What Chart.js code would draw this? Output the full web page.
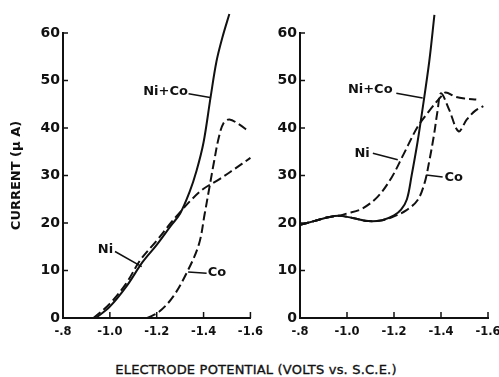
<!DOCTYPE html>
<html>
<head>
<meta charset="utf-8">
<script src="https://cdn.jsdelivr.net/npm/chart.js@4.4.1/dist/chart.umd.min.js"></script>
<style>
  html, body { margin: 0; padding: 0; background: #fff; overflow: hidden; width: 499px; height: 377px; }
  .panel { position: absolute; top: 0; }
  #leftBox { left: 0; width: 270px; height: 345px; }
  #rightBox { left: 250px; width: 265px; height: 345px; }
  #xTitle {
    position: absolute; top: 362px; left: 0; width: 512px; text-align: center;
    font: 13px "DejaVu Sans"; color: #111; letter-spacing: 0.2px;
    -webkit-text-stroke: 0.35px #111;
  }
</style>
</head>
<body>
<div class="panel" id="leftBox"><canvas id="leftChart"></canvas></div>
<div class="panel" id="rightBox"><canvas id="rightChart"></canvas></div>
<div id="xTitle">ELECTRODE POTENTIAL (VOLTS vs. S.C.E.)</div>

<script>
// left panel (volts vs S.C.E., current in microamps)
const leftNiCoV = [-0.94, -1.00, -1.07, -1.14, -1.20, -1.26, -1.30, -1.34, -1.37, -1.40, -1.43, -1.455, -1.48, -1.51];
const leftNiCoI = [0, 2.4, 6.6, 11.8, 15.4, 19.4, 22, 26.5, 31, 37, 46.5, 54, 59, 64];
const leftNiV = [-0.93, -1.00, -1.07, -1.13, -1.20, -1.26, -1.30, -1.35, -1.40, -1.47, -1.53, -1.60];
const leftNiI = [0, 3.0, 7.3, 12.2, 16.3, 20.0, 22.3, 25.0, 27.2, 29.3, 31.3, 33.7];
const leftCoV = [-1.16, -1.21, -1.27, -1.33, -1.38, -1.405, -1.425, -1.445, -1.465, -1.485, -1.51, -1.55, -1.59];
const leftCoI = [0, 1.3, 4.5, 9.7, 15.5, 22, 27.5, 33, 38, 41, 41.8, 40.8, 39.4];

// right panel
const rightNiCoV = [-0.80, -0.86, -0.92, -0.97, -1.03, -1.09, -1.15, -1.20, -1.23, -1.255, -1.275, -1.30, -1.32, -1.35, -1.372];
const rightNiCoI = [19.6, 20.4, 21.2, 21.5, 21.0, 20.4, 20.6, 21.6, 22.8, 25.0, 30.0, 37, 43.5, 54, 63.8];
const rightNiV = [-0.80, -0.86, -0.92, -0.97, -1.00, -1.06, -1.13, -1.19, -1.24, -1.30, -1.35, -1.40, -1.42, -1.46, -1.50, -1.55];
const rightNiI = [19.6, 20.4, 21.2, 21.6, 22.0, 22.9, 25.5, 29.6, 34.4, 40.2, 43.6, 46.6, 47.5, 46.6, 46.2, 46.0];
const rightCoV = [-0.80, -0.86, -0.92, -0.97, -1.03, -1.09, -1.15, -1.20, -1.25, -1.30, -1.33, -1.35, -1.37, -1.385, -1.40, -1.435, -1.475, -1.51, -1.545, -1.58];
const rightCoI = [19.6, 20.4, 21.2, 21.5, 21.0, 20.4, 20.6, 21.4, 22.6, 24.8, 28.4, 33, 38.5, 43.5, 47.3, 43.8, 39.3, 41.8, 43.6, 44.6];

const xTicks = [-0.8, -1.0, -1.2, -1.4, -1.6];
const yTicks = [0, 10, 20, 30, 40, 50, 60];

const INK = '#111';
const FONT = 'DejaVu Sans';

const toPoints = (vs, is) => vs.map((v, i) => ({ x: v, y: is[i] }));

function series(label, vs, is, dashed) {
  return {
    label,
    data: toPoints(vs, is),
    borderColor: INK,
    borderWidth: 2,
    borderDash: dashed ? [9, 4] : [],
    pointRadius: 0,
    fill: false,
    clip: false,
    tension: 0.35
  };
}

// little inward tick marks like the original drawing
const innerTicks = {
  id: 'innerTicks',
  afterDraw(chart) {
    const { ctx, scales: { x, y } } = chart;
    ctx.save();
    ctx.strokeStyle = INK;
    ctx.lineWidth = 1.5;
    xTicks.slice(1).forEach(v => {
      const px = x.getPixelForValue(v);
      ctx.beginPath();
      ctx.moveTo(px, y.bottom);
      ctx.lineTo(px, y.bottom - 6);
      ctx.stroke();
    });
    yTicks.slice(1).forEach(v => {
      const py = y.getPixelForValue(v);
      ctx.beginPath();
      ctx.moveTo(x.left - 1, py);
      ctx.lineTo(x.left + 5, py);
      ctx.stroke();
    });
    ctx.restore();
  }
};

// curve labels with leader lines, placed in data units
const curveLabels = {
  id: 'curveLabels',
  afterDatasetsDraw(chart, args, opts) {
    const { ctx, scales: { x, y } } = chart;
    ctx.save();
    ctx.fillStyle = INK;
    ctx.strokeStyle = INK;
    ctx.lineWidth = 1.5;
    ctx.font = `bold 13px "${FONT}"`;
    ctx.textBaseline = 'middle';
    (opts.notes || []).forEach(n => {
      ctx.textAlign = n.align;
      ctx.fillText(n.text, x.getPixelForValue(n.at[0]), y.getPixelForValue(n.at[1]));
      ctx.beginPath();
      ctx.moveTo(x.getPixelForValue(n.from[0]), y.getPixelForValue(n.from[1]));
      ctx.lineTo(x.getPixelForValue(n.to[0]), y.getPixelForValue(n.to[1]));
      ctx.stroke();
    });
    ctx.restore();
  }
};

function makeChart(id, datasets, opt) {
  return new Chart(document.getElementById(id), {
    type: 'line',
    data: { datasets },
    options: {
      responsive: true,
      maintainAspectRatio: false,
      animation: false,
      layout: { padding: { top: 33, right: opt.padRight, left: 0, bottom: 0 } },
      plugins: {
        legend: { display: false },
        tooltip: { enabled: false },
        curveLabels: { notes: opt.notes }
      },
      scales: {
        x: {
          type: 'linear',
          min: -1.6,
          max: -0.8,
          reverse: true,
          afterBuildTicks: s => { s.ticks = xTicks.map(v => ({ value: v })); },
          afterFit: s => { s.height = 27; },
          grid: { display: false, drawTicks: false },
          border: { display: true, color: INK, width: 2 },
          ticks: {
            color: INK,
            padding: 7,
            maxRotation: 0,
            font: { family: FONT, size: 11.5, weight: 'bold' },
            callback: v => Math.abs(v + 0.8) < 1e-6 ? '-.8' : v.toFixed(1)
          }
        },
        y: {
          min: 0,
          max: 60,
          afterBuildTicks: s => { s.ticks = yTicks.map(v => ({ value: v })); },
          afterFit: s => { s.width = opt.yWidth; },
          grid: { display: false, drawTicks: false },
          border: { display: true, color: INK, width: 2 },
          title: {
            display: opt.yTitle,
            text: 'CURRENT (\u03bc A)',
            color: INK,
            font: { family: FONT, size: 13, weight: 'bold' },
            padding: { top: 9, bottom: 0 }
          },
          ticks: {
            color: INK,
            padding: 3,
            font: { family: FONT, size: 14, weight: 'bold' }
          }
        }
      }
    },
    plugins: [innerTicks, curveLabels]
  });
}

makeChart('leftChart', [
  series('Ni+Co', leftNiCoV, leftNiCoI, false),
  series('Ni', leftNiV, leftNiI, true),
  series('Co', leftCoV, leftCoI, true)
], {
  yWidth: 63,
  padRight: 19,
  yTitle: true,
  notes: [
    { text: 'Ni+Co', align: 'right', at: [-1.333, 47.6], from: [-1.336, 47.2], to: [-1.428, 46.4] },
    { text: 'Ni', align: 'right', at: [-1.014, 14.3], from: [-1.022, 14.0], to: [-1.136, 10.8] },
    { text: 'Co', align: 'left', at: [-1.418, 9.5], from: [-1.334, 9.7], to: [-1.413, 9.4] }
  ]
});

makeChart('rightChart', [
  series('Ni+Co', rightNiCoV, rightNiCoI, false),
  series('Ni', rightNiV, rightNiI, true),
  series('Co', rightCoV, rightCoI, true)
], {
  yWidth: 50,
  padRight: 27,
  yTitle: false,
  notes: [
    { text: 'Ni+Co', align: 'right', at: [-1.194, 48.0], from: [-1.21, 47.3], to: [-1.322, 46.3] },
    { text: 'Ni', align: 'right', at: [-1.097, 34.7], from: [-1.11, 34.7], to: [-1.216, 33.3] },
    { text: 'Co', align: 'left', at: [-1.415, 29.5], from: [-1.337, 30.1], to: [-1.407, 29.7] }
  ]
});
</script>
</body>
</html>
